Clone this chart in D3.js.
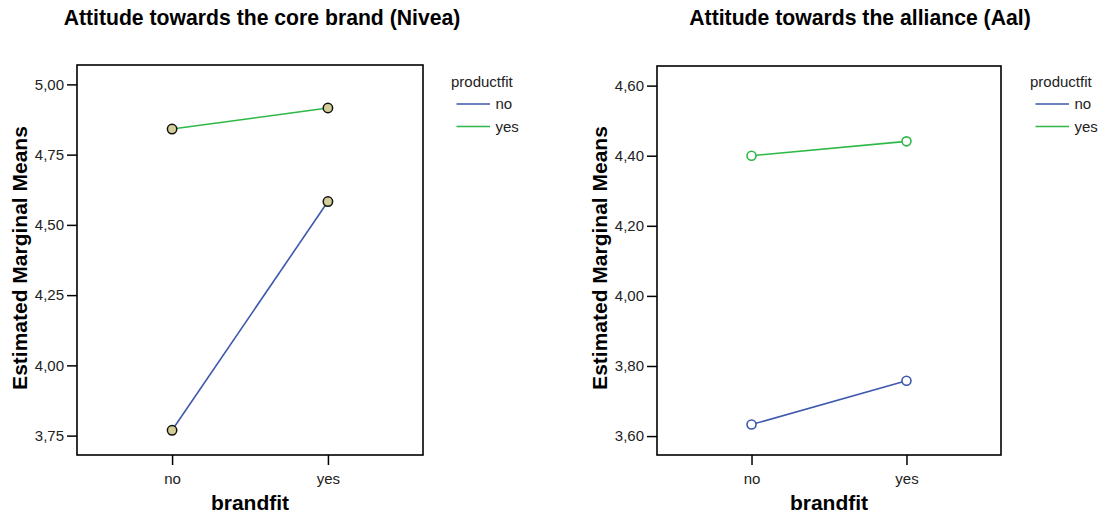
<!DOCTYPE html>
<html>
<head>
<meta charset="utf-8">
<script src="https://cdn.jsdelivr.net/npm/d3@7"></script>
<style>
  body { margin: 0; background: #fff; }
  text { font-family: "Liberation Sans", Arial, sans-serif; }
</style>
</head>
<body>
<div id="graph"></div>
<script>
// brandfit levels on the x axis, productfit levels as series
var categories = ["no", "yes"];
var seriesNames = ["no", "yes"];

// Attitude towards the core brand (Nivea)
var niveaNo = [3.769, 4.583];
var niveaYes = [4.841, 4.916];
var niveaTicks = [3.75, 4.00, 4.25, 4.50, 4.75, 5.00];

// Attitude towards the alliance (Aal)
var aalNo = [3.633, 3.758];
var aalYes = [4.400, 4.441];
var aalTicks = [3.60, 3.80, 4.00, 4.20, 4.40, 4.60];

var colors = ["#3e58ac", "#2eb848"];

var fmt = d3.formatLocale({ decimal: ",", thousands: ".", grouping: [3], currency: ["", ""] }).format(".2f");

var svg = d3.select("#graph")
    .append("svg")
    .attr("width", 1104)
    .attr("height", 519);

function panel(cfg) {
  var g = svg.append("g");
  var x = d3.scalePoint()
      .domain(categories)
      .range([cfg.left, cfg.right])
      .padding(0.61);
  var y = d3.scaleLinear()
      .domain(cfg.domain)
      .range([455, cfg.top]);

  // title
  g.append("text")
    .attr("x", cfg.titleX)
    .attr("y", 25)
    .attr("text-anchor", "middle")
    .style("font-size", "21.2px")
    .style("font-weight", "bold")
    .text(cfg.title);

  // frame
  g.append("rect")
    .attr("x", cfg.left)
    .attr("y", cfg.top)
    .attr("width", cfg.right - cfg.left)
    .attr("height", 455 - cfg.top)
    .attr("fill", "none")
    .attr("stroke", "#000")
    .attr("stroke-width", 1.6);

  var yAxis = g.append("g")
    .attr("transform", "translate(" + cfg.left + ",0)")
    .call(d3.axisLeft(y).tickValues(cfg.ticks).tickFormat(fmt).tickSize(10).tickPadding(3));
  yAxis.select(".domain").remove();
  yAxis.selectAll(".tick line").attr("stroke-width", 1.5);
  yAxis.selectAll(".tick text").style("font-size", "15px").attr("fill", "#222");

  var xAxis = g.append("g")
    .attr("transform", "translate(0,455)")
    .call(d3.axisBottom(x).tickSize(10).tickPadding(8));
  xAxis.select(".domain").remove();
  xAxis.selectAll(".tick line").attr("stroke-width", 1.5);
  xAxis.selectAll(".tick text").style("font-size", "15px").attr("fill", "#222");

  g.append("text")
    .attr("x", (cfg.left + cfg.right) / 2)
    .attr("y", 510)
    .attr("text-anchor", "middle")
    .style("font-size", "21px")
    .style("font-weight", "bold")
    .text("brandfit");

  g.append("text")
    .attr("transform", "translate(" + (cfg.left - 50) + ",258) rotate(-90)")
    .attr("text-anchor", "middle")
    .style("font-size", "21px")
    .style("font-weight", "bold")
    .text("Estimated Marginal Means");

  var line = d3.line()
    .x(function (d, i) { return x(categories[i]); })
    .y(function (d) { return y(d); });

  cfg.series.forEach(function (vals, s) {
    g.append("path")
      .datum(vals)
      .attr("d", line)
      .attr("fill", "none")
      .attr("stroke", colors[s])
      .attr("stroke-width", 1.6);
  });

  cfg.series.forEach(function (vals, s) {
    g.selectAll("circle.s" + s)
      .data(vals)
      .enter()
      .append("circle")
      .attr("cx", function (d, i) { return x(categories[i]); })
      .attr("cy", function (d) { return y(d); })
      .attr("r", cfg.filled ? 4.7 : 4.5)
      .attr("fill", cfg.filled ? "#d3cd97" : "#fff")
      .attr("stroke", cfg.filled ? "#111" : colors[s])
      .attr("stroke-width", cfg.filled ? 1.5 : 1.6);
  });

  // legend
  var lg = g.append("g");
  lg.append("text")
    .attr("x", cfg.legendX)
    .attr("y", 87)
    .style("font-size", "15px")
    .attr("fill", "#222")
    .text("productfit");
  seriesNames.forEach(function (name, s) {
    var ly = 104 + s * 22.5;
    lg.append("line")
      .attr("x1", cfg.legendX + 5.5)
      .attr("x2", cfg.legendX + 39)
      .attr("y1", ly)
      .attr("y2", ly)
      .attr("stroke", colors[s])
      .attr("stroke-width", 1.6);
    lg.append("text")
      .attr("x", cfg.legendX + 44.5)
      .attr("y", ly)
      .attr("dy", "0.35em")
      .style("font-size", "15px")
      .attr("fill", "#222")
      .text(name);
  });
}

panel({
  title: "Attitude towards the core brand (Nivea)",
  titleX: 262,
  left: 77, right: 423, top: 65,
  domain: [3.681, 5.069],
  ticks: niveaTicks,
  series: [niveaNo, niveaYes],
  filled: true,
  legendX: 451
});

panel({
  title: "Attitude towards the alliance (Aal)",
  titleX: 860,
  left: 657, right: 1001, top: 66,
  domain: [3.546, 4.656],
  ticks: aalTicks,
  series: [aalNo, aalYes],
  filled: false,
  legendX: 1030
});
</script>
</body>
</html>
